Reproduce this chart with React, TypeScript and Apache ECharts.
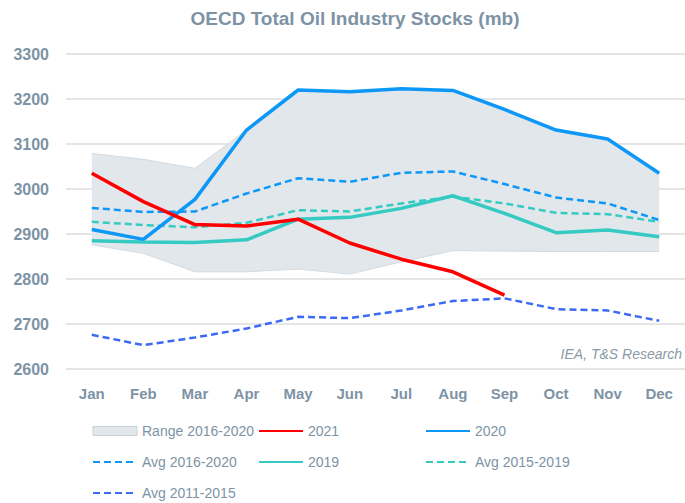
import React, { useEffect, useRef } from "react";
import * as echarts from "echarts";

const months = ["Jan", "Feb", "Mar", "Apr", "May", "Jun", "Jul", "Aug", "Sep", "Oct", "Nov", "Dec"];
const rangeLower = [2876, 2857, 2816, 2816, 2822, 2811, 2838, 2863, 2862, 2861, 2861, 2861];
const rangeUpper = [3079, 3066, 3046, 3131, 3220, 3216, 3223, 3219, 3177, 3131, 3111, 3035];
const y2021 = [3035, 2972, 2921, 2918, 2933, 2880, 2844, 2816, 2764];
const y2020 = [2910, 2888, 2977, 3131, 3220, 3216, 3223, 3219, 3177, 3131, 3111, 3035];
const avg1620 = [2958, 2949, 2950, 2990, 3024, 3016, 3036, 3039, 3011, 2981, 2968, 2931];
const y2019 = [2885, 2882, 2881, 2887, 2933, 2937, 2957, 2985, 2946, 2903, 2909, 2894];
const avg1519 = [2927, 2920, 2915, 2925, 2953, 2950, 2968, 2983, 2968, 2947, 2944, 2927];
const avg1115 = [2676, 2653, 2670, 2690, 2716, 2713, 2730, 2751, 2757, 2733, 2730, 2707];

const TXT = "#7D93A5";
const FONT = "Liberation Sans";

export default function App() {
  const ref = useRef<HTMLDivElement>(null);
  useEffect(() => {
    if (!ref.current) return;
    const chart = echarts.init(ref.current, null, { renderer: "svg" });
    const diff = rangeUpper.map((u, i) => u - rangeLower[i]);
    const lineS = (name: string, data: number[], color: string, width: number, dashed: boolean) => ({
      name,
      type: "line",
      data,
      symbol: "none",
      lineStyle: { color, width, type: dashed ? [7, 4] : "solid", cap: "butt" },
      itemStyle: { color },
      z: 3,
    });
    const legendBase = {
      orient: "vertical",
      itemWidth: 44,
      itemHeight: 9,
      itemGap: 15,
      top: 423,
      padding: 0,
      itemStyle: { opacity: 0 },
      textStyle: { color: TXT, fontSize: 14, fontFamily: FONT, lineHeight: 16 },
      selectedMode: false,
    };
    chart.setOption({
      animation: false,
      backgroundColor: "#ffffff",
      title: {
        text: "OECD Total Oil Industry Stocks (mb)",
        left: 350,
        textAlign: "center",
        top: 4,
        textStyle: { color: TXT, fontSize: 19, fontWeight: "bold", fontFamily: FONT },
      },
      grid: { left: 66, top: 54, width: 624, height: 315 },
      xAxis: {
        type: "category",
        data: months,
        boundaryGap: true,
        axisLine: { show: false },
        axisTick: { show: false },
        axisLabel: { color: TXT, fontSize: 15, fontWeight: "bold", fontFamily: FONT, margin: 17 },
      },
      yAxis: {
        type: "value",
        min: 2600,
        max: 3300,
        interval: 100,
        axisLine: { show: false },
        axisTick: { show: false },
        splitLine: { lineStyle: { color: "#DCDCDC", width: 1.5 } },
        axisLabel: {
          color: TXT,
          fontSize: 16,
          fontWeight: "bold",
          fontFamily: FONT,
          margin: 17,
          formatter: (v: number) => String(v),
        },
      },
      legend: [
        {
          ...legendBase,
          left: 92,
          data: [
            {
              name: "Range 2016-2020",
              icon: "rect",
              itemStyle: { color: "#E1E7EB", borderColor: "#C8D2D9", borderWidth: 1, opacity: 1 },
            },
            "Avg 2016-2020",
            "Avg 2011-2015",
          ],
        },
        { ...legendBase, left: 258, data: ["2021", "2019"] },
        { ...legendBase, left: 425, data: ["2020", "Avg 2015-2019"] },
      ],
      graphic: [
        {
          type: "text",
          right: 3,
          top: 347,
          style: { text: "IEA, T&S Research", fill: "#8A9AA6", fontSize: 14, fontStyle: "italic", fontFamily: FONT },
        },
      ],
      series: [
        {
          name: "rangeBase",
          type: "line",
          data: rangeLower,
          stack: "range",
          symbol: "none",
          silent: true,
          lineStyle: { color: "#D3DBE0", width: 1 },
          z: 1,
        },
        {
          name: "Range 2016-2020",
          type: "line",
          data: diff,
          stack: "range",
          symbol: "none",
          silent: true,
          lineStyle: { color: "#D3DBE0", width: 1 },
          areaStyle: { color: "#E1E7EB", opacity: 1 },
          itemStyle: { color: "#E1E7EB" },
          z: 1,
        },
        lineS("Avg 2011-2015", avg1115, "#3D6AF5", 2.5, true),
        lineS("Avg 2015-2019", avg1519, "#35CBC3", 2.5, true),
        lineS("Avg 2016-2020", avg1620, "#0D98F8", 2.5, true),
        lineS("2019", y2019, "#35CBC3", 3.5, false),
        lineS("2020", y2020, "#0D98F8", 3.5, false),
        lineS("2021", y2021, "#FF0000", 3.5, false),
      ],
    });
    return () => chart.dispose();
  }, []);
  return <div ref={ref} style={{ position: "absolute", left: 0, top: 0, width: 685, height: 503 }} />;
}
